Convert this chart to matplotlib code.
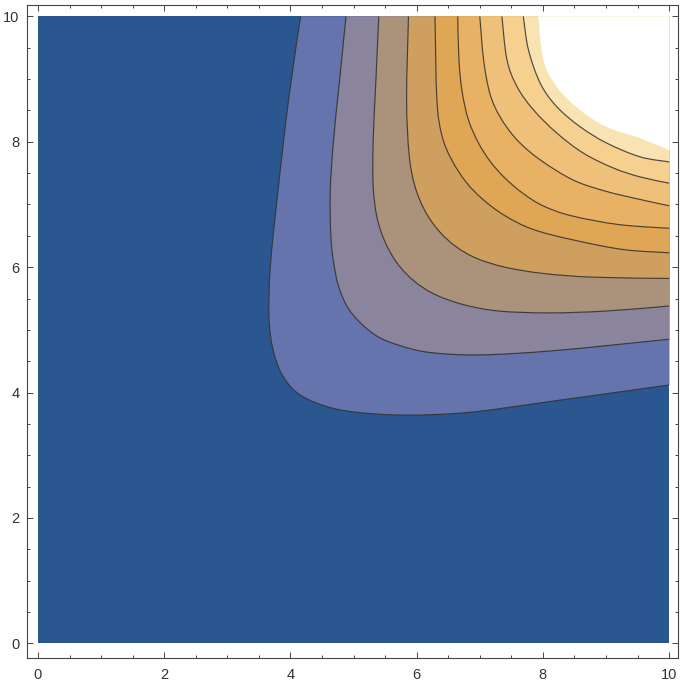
import numpy as np
import matplotlib.pyplot as plt
from matplotlib.path import Path
from matplotlib.patches import PathPatch
from matplotlib.ticker import MultipleLocator

plt.rcParams['font.family'] = ['Liberation Sans', 'DejaVu Sans']

# plot domain
x_range = [0, 10]
y_range = [0, 10]

# contour lines (each runs from the top edge to the right edge)
level_1 = ([4.16, 3.97, 3.80, 3.68, 3.66, 3.72, 3.86, 4.10, 4.50, 5.00, 5.80, 6.80, 8.00, 10.0],
           [10.0, 8.67, 7.20, 6.00, 5.20, 4.70, 4.30, 4.00, 3.80, 3.69, 3.64, 3.68, 3.84, 4.12])
level_2 = ([4.88, 4.77, 4.68, 4.63, 4.64, 4.68, 4.76, 4.90, 5.10, 5.37, 5.70, 6.20, 7.00, 8.20, 10.0],
           [10.0, 8.90, 8.00, 7.20, 6.50, 6.10, 5.70, 5.37, 5.12, 4.90, 4.76, 4.64, 4.60, 4.67, 4.85])
level_3 = ([5.40, 5.35, 5.31, 5.31, 5.37, 5.50, 5.70, 5.97, 6.30, 6.75, 7.30, 8.10, 9.00, 10.0],
           [10.0, 8.90, 8.00, 7.30, 6.80, 6.40, 6.05, 5.77, 5.56, 5.40, 5.30, 5.27, 5.30, 5.38])
level_4 = ([5.87, 5.84, 5.88, 5.97, 6.13, 6.35, 6.62, 6.95, 7.40, 8.00, 8.80, 10.0],
           [10.0, 8.67, 7.80, 7.30, 6.90, 6.58, 6.33, 6.14, 6.00, 5.90, 5.84, 5.82])
level_5 = ([6.29, 6.32, 6.40, 6.55, 6.78, 7.05, 7.40, 7.85, 8.50, 9.28, 10.0],
           [10.0, 8.67, 8.10, 7.72, 7.36, 7.08, 6.82, 6.60, 6.43, 6.28, 6.23])
level_6 = ([6.65, 6.67, 6.72, 6.82, 6.98, 7.17, 7.40, 7.68, 8.00, 8.45, 9.20, 10.0],
           [10.0, 9.30, 8.80, 8.35, 7.98, 7.68, 7.42, 7.18, 6.98, 6.82, 6.68, 6.62])
level_7 = ([7.00, 7.06, 7.16, 7.32, 7.59, 7.96, 8.48, 9.00, 9.54, 10.0],
           [10.0, 9.31, 8.77, 8.40, 8.03, 7.71, 7.39, 7.21, 7.08, 6.98])
level_8 = ([7.35, 7.43, 7.59, 7.85, 8.22, 8.64, 9.12, 9.54, 10.0],
           [10.0, 9.31, 8.88, 8.51, 8.14, 7.82, 7.58, 7.44, 7.34])
level_9 = ([7.69, 7.77, 7.96, 8.22, 8.59, 9.01, 9.54, 10.0],
           [10.0, 9.47, 8.93, 8.56, 8.24, 7.98, 7.76, 7.68])
# where the values leave the plot range (white, no line)
clip_edge = ([7.93, 8.01, 8.22, 8.59, 9.01, 9.54, 10.0],
             [10.0, 9.31, 8.88, 8.51, 8.24, 8.06, 7.87])

levels = [level_1, level_2, level_3, level_4, level_5,
          level_6, level_7, level_8, level_9]

band_colors = ['#2b5790', '#6574ac', '#8a859c', '#ab927b', '#cf9f60',
               '#dfa656', '#e9b163', '#efc079', '#f5d08f', '#fae3b2']


def smooth_path(xs, ys, corner=None):
    # bezier path through the read points (catmull-rom tangents)
    p = np.column_stack([xs, ys])
    q = np.vstack([p[0], p, p[-1]])
    verts = [p[0]]
    codes = [Path.MOVETO]
    for i in range(len(p) - 1):
        c1 = q[i + 1] + (q[i + 2] - q[i]) / 6
        c2 = q[i + 2] - (q[i + 3] - q[i + 1]) / 6
        verts += [c1, c2, q[i + 2]]
        codes += [Path.CURVE4] * 3
    if corner is not None:
        verts += [corner, corner]
        codes += [Path.LINETO, Path.CLOSEPOLY]
    return Path(verts, codes)


fig = plt.figure(figsize=(6.85, 6.82), dpi=100)
ax = fig.add_axes([27 / 685, 1 - 658 / 682, 651 / 685, 653 / 682])

x0, x1 = x_range
y0, y1 = y_range
ax.fill([x0, x1, x1, x0], [y0, y0, y1, y1], color=band_colors[0], lw=0)

for (xs, ys), c in zip(levels, band_colors[1:]):
    ax.add_patch(PathPatch(smooth_path(xs, ys, (x1, y1)), facecolor=c, edgecolor=c, lw=0.3))

ax.add_patch(PathPatch(smooth_path(*clip_edge, (x1, y1)), facecolor='white', edgecolor='white', lw=0.3))

for xs, ys in levels:
    ax.add_patch(PathPatch(smooth_path(xs, ys), facecolor='none', edgecolor='#2e2e2e',
                           lw=0.85, alpha=0.85))

ax.set_xlim(-0.174, 10.14)
ax.set_ylim(-0.236, 10.183)

ax.xaxis.set_major_locator(MultipleLocator(2))
ax.yaxis.set_major_locator(MultipleLocator(2))
ax.xaxis.set_minor_locator(MultipleLocator(0.5))
ax.yaxis.set_minor_locator(MultipleLocator(0.5))
ax.tick_params(which='both', direction='in', top=True, right=True,
               color='#444444', labelcolor='#333333', labelsize=10.5, width=0.7)
ax.tick_params(which='major', length=4.5)
ax.tick_params(which='minor', length=2.5)
ax.tick_params(axis='x', which='major', pad=7)
ax.tick_params(axis='y', which='major', pad=5.5)

for sp in ax.spines.values():
    sp.set_color('#444444')
    sp.set_linewidth(0.8)

fig.savefig('out.png', dpi=100)
